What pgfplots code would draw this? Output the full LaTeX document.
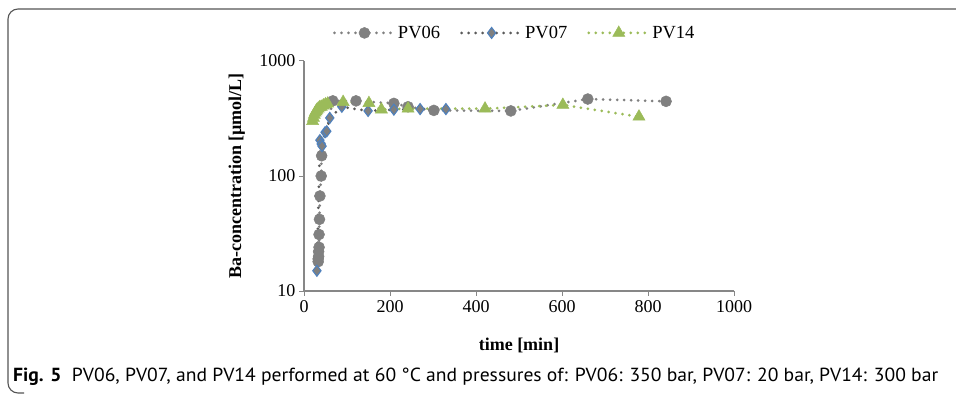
\documentclass[border=0pt]{standalone}
\usepackage{fontspec}
\setmainfont{Liberation Serif}
\newfontfamily\capfont{PT Sans}
\usepackage{pgfplots}
\pgfplotsset{compat=1.18}
\definecolor{axgray}{HTML}{878787}
\definecolor{c06}{HTML}{808080}
\definecolor{c07line}{HTML}{5A5A5A}
\definecolor{c07fill}{HTML}{7F7F7F}
\definecolor{c07edge}{HTML}{4F81BD}
\definecolor{c14}{HTML}{9BBB59}
\definecolor{framec}{HTML}{555555}
\begin{document}
\begin{tikzpicture}
\useasboundingbox (0,0) rectangle (956pt,-396pt);
\draw[line width=1.1pt, draw=framec, rounded corners=10pt] (24pt,-393pt) -- (8pt,-393pt) -- (8pt,-9pt) -- (956pt,-9pt);
\begin{axis}[
  at={(304pt,-291pt)}, anchor=south west,
  scale only axis, width=430pt, height=230pt,
  xmin=0, xmax=1000, ymin=10, ymax=1000, ymode=log,
  xtick={0,200,400,600,800,1000},
  xticklabels={0,200,400,600,800,1000},
  ytick={10,100,1000}, yticklabels={10,100,1000},
  yminorticks=false,
  axis lines*=left,
  axis line style={draw=axgray, line width=1.3pt, -},
  tick align=outside,
  major tick length=5pt,
  tick style={draw=axgray, line width=1pt},
  ticklabel style={font=\fontsize{18}{20}\selectfont},
  xticklabel style={yshift=-1pt},
  clip=false,
  xlabel={\textbf{time [min]}},
  ylabel={\textbf{Ba-concentration [µmol/L]}},
  label style={font=\fontsize{18}{20}\selectfont},
  xlabel style={at={(axis description cs:0.5,-0.235)}, anchor=center},
  ylabel style={at={(axis description cs:-0.156,0.5)}, anchor=center},
  legend style={at={(0.49,1.122)}, anchor=center, draw=none, fill=none,
    font=\fontsize{18.5}{20}\selectfont,
    /tikz/every even column/.append style={column sep=18pt}},
  legend columns=3,
  legend image code/.code={\draw[mark repeat=2,mark phase=2] plot coordinates {(0pt,0pt) (30pt,0pt) (60pt,0pt)};},
  every axis plot/.append style={line width=3pt, dash pattern=on 0pt off 7pt, line cap=round},
]
\addplot[c06, mark=*, mark size=5.5pt, mark options={solid, fill=c06, draw=c06, line width=0.5pt}] coordinates {
(33,18) (33,19) (34,20) (34,22) (35,24) (35,31) (36,42) (37,67) (40,100) (41,150)
(67,450) (121,450) (209,428) (242,400) (302,372) (481,368) (660,467) (842,446)};
\addlegendentry{PV06}
\addplot[c07line, mark=diamond*, mark size=5.5pt, mark options={solid, fill=c07fill, draw=c07edge, line width=1.1pt}] coordinates {
(30,15) (37,205) (40,190) (42,182) (49,240) (53,245) (60,320) (88,400) (149,368) (209,378) (270,382) (330,382)};
\addlegendentry{PV07}
\addplot[c14, mark=triangle*, mark size=7pt, mark options={solid, fill=c14, draw=c14, line width=0.5pt}] coordinates {
(20,300) (22,320) (24,340) (26,355) (28,365) (30,375) (33,385) (36,395) (40,400) (45,410) (50,420) (55,425)
(91,440) (151,430) (180,378) (242,385) (421,385) (602,415) (779,328)};
\addlegendentry{PV14}
\end{axis}
\node[anchor=base west, inner sep=0pt] at (13pt,-381pt) {\resizebox{925pt}{13.5pt}{\capfont\fontsize{16}{18}\selectfont\textbf{Fig. 5}\ \ PV06, PV07, and PV14 performed at 60 °C and pressures of: PV06: 350 bar, PV07: 20 bar, PV14: 300 bar}};
\end{tikzpicture}
\end{document}
